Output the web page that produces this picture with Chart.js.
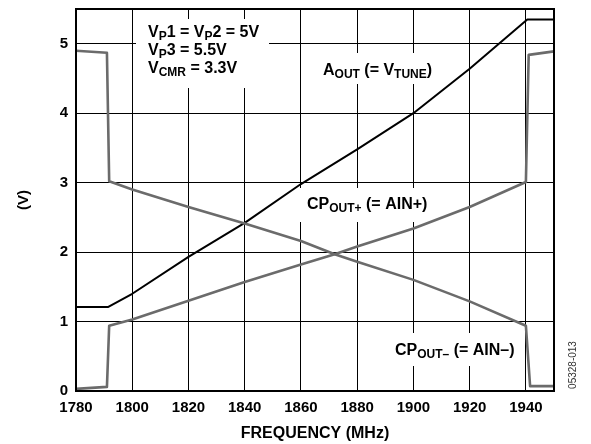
<!DOCTYPE html>
<html>
<head>
<meta charset="utf-8">
<script src="https://cdn.jsdelivr.net/npm/chart.js"></script>
<style>
  html, body { margin: 0; padding: 0; background: #fff; }
  #wrap { width: 591px; height: 444px; position: relative; }
</style>
</head>
<body>
<div id="wrap"><canvas id="chart"></canvas></div>
<script>
// frequency (MHz) / voltage (V)
const aoutFreq = [1780, 1791.5, 1800, 1820, 1840, 1860, 1880, 1900, 1920, 1940.5, 1950];
const aoutVolt = [1.21, 1.21, 1.40, 1.93, 2.42, 2.98, 3.48, 4.00, 4.64, 5.35, 5.35];

const cpPlusFreq = [1780, 1791, 1791.8, 1800, 1820, 1840, 1860, 1872, 1880, 1900, 1920, 1940, 1941, 1950];
const cpPlusVolt = [0.03, 0.06, 0.94, 1.03, 1.30, 1.57, 1.82, 1.97, 2.08, 2.34, 2.65, 3.01, 4.84, 4.89];

const cpMinusFreq = [1780, 1791, 1791.8, 1800, 1820, 1840, 1860, 1872, 1880, 1900, 1920, 1940, 1941.5, 1950];
const cpMinusVolt = [4.90, 4.87, 3.02, 2.90, 2.65, 2.41, 2.16, 1.97, 1.86, 1.60, 1.29, 0.94, 0.07, 0.07];

// axis ranges and tick steps
const xRange = [1780, 1950], xStep = 20;
const yRange = [0, 5.5], yStep = 1;

const FONT = '"Liberation Sans", Arial, Helvetica, sans-serif';

function pts(xs, ys) {
    return xs.map((x, i) => ({ x: x, y: ys[i] }));
}

// text annotations: lines of runs, [text, isSubscript]
const notes = [
    { x: 148, y: 37, box: [136, 19, 133, 69], lines: [
        [['V', 0], ['P', 1], ['1 = V', 0], ['P', 1], ['2 = 5V', 0]],
        [['V', 0], ['P', 1], ['3 = 5.5V', 0]],
        [['V', 0], ['CMR', 1], [' = 3.3V', 0]]
    ] },
    { x: 323, y: 75, box: [318, 53, 124, 31], lines: [
        [['A', 0], ['OUT', 1], [' (= V', 0], ['TUNE', 1], [')', 0]]
    ] },
    { x: 307, y: 209, box: [300, 188, 134, 34], lines: [
        [['CP', 0], ['OUT+', 1], [' (= AIN+)', 0]]
    ] },
    { x: 395, y: 355, box: [389, 333, 130, 33], lines: [
        [['CP', 0], ['OUT\u2013', 1], [' (= AIN\u2013)', 0]]
    ] }
];

const notePlugin = {
    id: 'notes',
    beforeDatasetsDraw(chart) {
        const ctx = chart.ctx;
        ctx.save();
        notes.forEach(n => {
            ctx.fillStyle = '#fff';
            ctx.fillRect(n.box[0], n.box[1], n.box[2], n.box[3]);
        });
        ctx.restore();
    },
    afterDatasetsDraw(chart) {
        const ctx = chart.ctx;
        ctx.save();
        ctx.fillStyle = '#000';
        ctx.textBaseline = 'alphabetic';
        notes.forEach(n => {
            n.lines.forEach((line, li) => {
                let x = n.x;
                const y = n.y + li * 18;
                line.forEach(run => {
                    if (run[1]) {
                        ctx.font = 'bold 12px ' + FONT;
                        ctx.fillText(run[0], x, y + 3);
                    } else {
                        ctx.font = 'bold 16px ' + FONT;
                        ctx.fillText(run[0], x, y);
                    }
                    x += ctx.measureText(run[0]).width;
                });
            });
        });
        // frame and side code
        const a = chart.chartArea;
        ctx.strokeStyle = '#000';
        ctx.lineWidth = 2;
        ctx.strokeRect(a.left, a.top, a.right - a.left, a.bottom - a.top);
        ctx.translate(573, 365);
        ctx.rotate(-Math.PI / 2);
        ctx.font = '10px ' + FONT;
        ctx.fillStyle = '#333';
        ctx.textAlign = 'center';
        ctx.textBaseline = 'middle';
        ctx.fillText('05328-013', 0, 0);
        ctx.restore();
    }
};

const lineStyle = { fill: false, pointRadius: 0, tension: 0, borderJoinStyle: 'round' };

new Chart(document.getElementById('chart'), {
    type: 'scatter',
    data: {
        datasets: [
            Object.assign({ label: 'CPOUT+', data: pts(cpPlusFreq, cpPlusVolt), showLine: true,
                borderColor: '#6b6b6b', borderWidth: 2.6 }, lineStyle),
            Object.assign({ label: 'CPOUT-', data: pts(cpMinusFreq, cpMinusVolt), showLine: true,
                borderColor: '#6b6b6b', borderWidth: 2.6 }, lineStyle),
            Object.assign({ label: 'AOUT', data: pts(aoutFreq, aoutVolt), showLine: true,
                borderColor: '#000', borderWidth: 2 }, lineStyle)
        ]
    },
    options: {
        responsive: true,
        maintainAspectRatio: false,
        animation: false,
        layout: { padding: { top: 9, right: 37, left: 0, bottom: 0 } },
        plugins: { legend: { display: false }, tooltip: { enabled: false } },
        scales: {
            x: {
                type: 'linear',
                min: xRange[0],
                max: xRange[1],
                afterFit: s => { s.height = 53; s.paddingLeft = 0; s.paddingRight = 0; },
                grid: { color: '#000', lineWidth: 1, drawTicks: false },
                border: { display: false },
                ticks: { stepSize: xStep, includeBounds: false, color: '#000', padding: 8, maxRotation: 0, autoSkip: false,
                    callback: v => String(v),
                    font: { family: FONT, size: 15, weight: 'bold' } },
                title: { display: true, text: 'FREQUENCY (MHz)', color: '#000', padding: { top: 5, bottom: 1 },
                    font: { family: FONT, size: 16, weight: 'bold' } }
            },
            y: {
                min: yRange[0],
                max: yRange[1],
                afterFit: s => { s.width = 76; s.paddingTop = 0; s.paddingBottom = 0; },
                grid: { color: '#000', lineWidth: 1, drawTicks: false },
                border: { display: false },
                ticks: { stepSize: yStep, includeBounds: false, color: '#000', padding: 8,
                    callback: v => String(v),
                    font: { family: FONT, size: 15, weight: 'bold' } },
                title: { display: true, text: '(V)', color: '#000', padding: { top: 15, bottom: 0 },
                    font: { family: FONT, size: 15, weight: 'bold' } }
            }
        }
    },
    plugins: [notePlugin]
});
</script>
</body>
</html>
